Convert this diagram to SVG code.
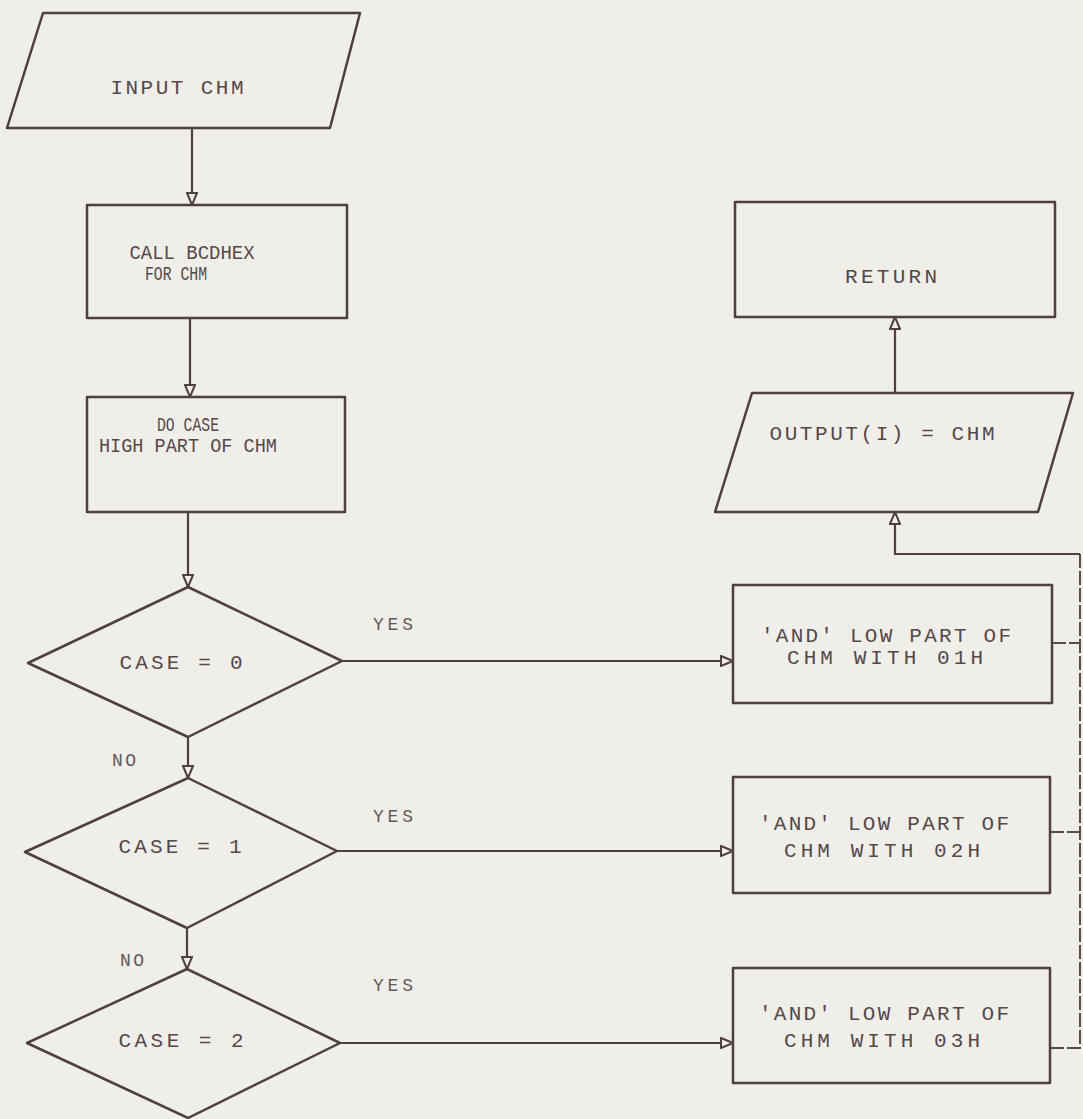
<svg xmlns="http://www.w3.org/2000/svg" width="1083" height="1119" viewBox="0 0 1083 1119">
<style>
.bg{fill:#efeee8}
.shape{fill:none;stroke:#4f3f3f;stroke-width:2.5;stroke-linejoin:round}
.conn{fill:none;stroke:#4f3f3f;stroke-width:2.2}
.bus{fill:none;stroke:#5a4a4a;stroke-width:2;stroke-dasharray:14 3}
.t{font-family:"Liberation Mono","DejaVu Sans Mono",monospace;font-size:21px;fill:#574848;text-anchor:middle}
.lbl{font-family:"Liberation Mono","DejaVu Sans Mono",monospace;font-size:18px;fill:#665858}
</style>
<defs>
<marker id="arr" viewBox="0 0 14 12" refX="13" refY="6" markerWidth="14" markerHeight="12" markerUnits="userSpaceOnUse" orient="auto">
<path d="M1,1 L13,6 L1,11 Z" fill="#efeee8" stroke="#4f3f3f" stroke-width="2"/>
</marker>
</defs>
<rect class="bg" x="0" y="0" width="1083" height="1119"/>
<g id="connectors">
<line class="conn" x1="192" y1="128" x2="192" y2="205" marker-end="url(#arr)"/>
<line class="conn" x1="190" y1="318" x2="190" y2="397" marker-end="url(#arr)"/>
<line class="conn" x1="188" y1="512" x2="188" y2="587" marker-end="url(#arr)"/>
<line class="conn" x1="188" y1="737" x2="188" y2="778" marker-end="url(#arr)"/>
<line class="conn" x1="187" y1="928" x2="187" y2="969" marker-end="url(#arr)"/>
<line class="conn" x1="342" y1="661" x2="733" y2="661" marker-end="url(#arr)"/>
<line class="conn" x1="337" y1="851" x2="733" y2="851" marker-end="url(#arr)"/>
<line class="conn" x1="340" y1="1043" x2="733" y2="1043" marker-end="url(#arr)"/>
<polyline class="bus" points="1052,643 1080,643"/>
<polyline class="bus" points="1050,832 1080,832"/>
<polyline class="bus" points="1050,1048 1080,1048 1080,554"/>
<polyline class="conn" points="1080,554 895,554 895,512" marker-end="url(#arr)"/>
<line class="conn" x1="895" y1="393" x2="895" y2="317" marker-end="url(#arr)"/>
<text class="lbl" x="373" y="630" textLength="40" lengthAdjust="spacing">YES</text>
<text class="lbl" x="373" y="822" textLength="40" lengthAdjust="spacing">YES</text>
<text class="lbl" x="373" y="991" textLength="40" lengthAdjust="spacing">YES</text>
<text class="lbl" x="112" y="766" textLength="24" lengthAdjust="spacing">NO</text>
<text class="lbl" x="120" y="966" textLength="24" lengthAdjust="spacing">NO</text>
</g>
<g id="input-chm">
<polygon class="shape" points="43,13 360,13 330,128 7,128"/>
<text class="t" x="177" y="94" textLength="133" lengthAdjust="spacing">INPUT CHM</text>
</g>
<g id="call-bcdhex">
<rect class="shape" x="87" y="205" width="260" height="113"/>
<text class="t" x="192" y="259" textLength="125" lengthAdjust="spacingAndGlyphs">CALL BCDHEX</text>
<text class="t" x="176" y="280" textLength="62" lengthAdjust="spacingAndGlyphs">FOR CHM</text>
</g>
<g id="do-case">
<rect class="shape" x="87" y="397" width="258" height="115"/>
<text class="t" x="188" y="431" textLength="62" lengthAdjust="spacingAndGlyphs">DO CASE</text>
<text class="t" x="188" y="452" textLength="178" lengthAdjust="spacingAndGlyphs">HIGH PART OF CHM</text>
</g>
<g id="case0">
<polygon class="shape" points="188,587 342,661 188,737 28,663"/>
<text class="t" x="181" y="669" textLength="123" lengthAdjust="spacing">CASE = 0</text>
</g>
<g id="case1">
<polygon class="shape" points="188,778 337,851 187,928 25,852"/>
<text class="t" x="180" y="853" textLength="123" lengthAdjust="spacing">CASE = 1</text>
</g>
<g id="case2">
<polygon class="shape" points="187,969 340,1043 188,1118 27,1043"/>
<text class="t" x="181" y="1047" textLength="125" lengthAdjust="spacing">CASE = 2</text>
</g>
<g id="and-0">
<rect class="shape" x="733" y="585" width="319" height="118"/>
<text class="t" x="886" y="642" textLength="250" lengthAdjust="spacing">'AND' LOW PART OF</text>
<text class="t" x="885" y="664" textLength="196" lengthAdjust="spacing">CHM WITH 01H</text>
</g>
<g id="and-1">
<rect class="shape" x="733" y="777" width="317" height="116"/>
<text class="t" x="884" y="830" textLength="250" lengthAdjust="spacing">'AND' LOW PART OF</text>
<text class="t" x="882" y="857" textLength="196" lengthAdjust="spacing">CHM WITH 02H</text>
</g>
<g id="and-2">
<rect class="shape" x="733" y="968" width="317" height="115"/>
<text class="t" x="884" y="1020" textLength="250" lengthAdjust="spacing">'AND' LOW PART OF</text>
<text class="t" x="882" y="1047" textLength="196" lengthAdjust="spacing">CHM WITH 03H</text>
</g>
<g id="output">
<polygon class="shape" points="752,393 1073,393 1038,512 715,512"/>
<text class="t" x="882" y="440" textLength="225" lengthAdjust="spacing">OUTPUT(I) = CHM</text>
</g>
<g id="return">
<rect class="shape" x="735" y="202" width="320" height="115"/>
<text class="t" x="891" y="283" textLength="92" lengthAdjust="spacing">RETURN</text>
</g>
</svg>
